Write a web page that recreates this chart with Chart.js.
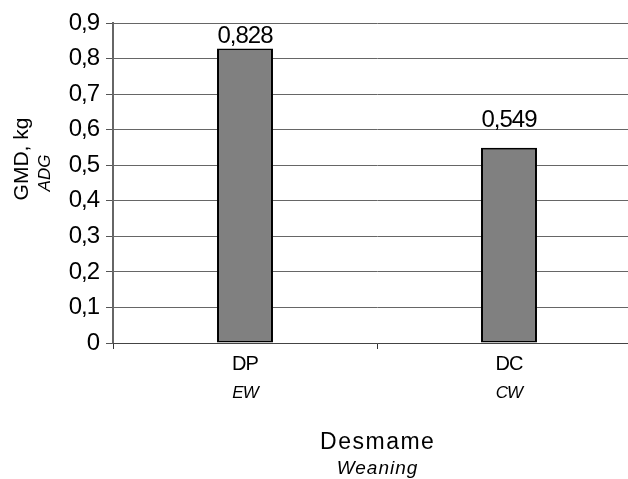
<!DOCTYPE html>
<html>
<head>
<meta charset="utf-8">
<script src="https://cdn.jsdelivr.net/npm/chart.js@4"></script>
<style>
  html, body { margin: 0; padding: 0; background: #ffffff; overflow: hidden; width: 628px; height: 479px; }
  canvas { display: block; }
</style>
</head>
<body>
<canvas id="c" width="645" height="479"></canvas>
<script>
// ---- data ----
const categories = ['DP', 'DC'];
const subCategories = ['EW', 'CW'];
const adgValues = [0.828, 0.549];
const yTickLabels = ['0', '0,1', '0,2', '0,3', '0,4', '0,5', '0,6', '0,7', '0,8', '0,9'];
const yTitleMain = 'GMD, kg';
const yTitleSub = 'ADG';
const xTitleMain = 'Desmame';
const xTitleSub = 'Weaning';

const FONT = '"Liberation Sans", Arial, sans-serif';

const spacingPlugin = {
  id: 'spacing',
  beforeLayout(chart) { chart.ctx.letterSpacing = '-1px'; },
  beforeDraw(chart) { chart.ctx.letterSpacing = '-1px'; }
};

const labelPlugin = {
  id: 'valueLabels',
  afterDatasetsDraw(chart) {
    const ctx = chart.ctx;
    const meta = chart.getDatasetMeta(0);
    const area = chart.chartArea;
    ctx.save();
    ctx.letterSpacing = '-1px';
    ctx.font = '24px ' + FONT;
    ctx.fillStyle = '#000';
    ctx.textAlign = 'center';
    ctx.textBaseline = 'alphabetic';
    meta.data.forEach((bar, i) => {
      const txt = adgValues[i].toFixed(3).replace('.', ',');
      const y = Math.max(bar.y - 21, area.top + 20);
      ctx.fillText(txt, bar.x, y);
    });
    ctx.restore();
  }
};

const titlePlugin = {
  id: 'axisTitles',
  afterDraw(chart) {
    const ctx = chart.ctx;
    const area = chart.chartArea;
    const cx = (area.left + area.right) / 2;
    ctx.save();
    ctx.fillStyle = '#000';
    ctx.textAlign = 'center';
    ctx.textBaseline = 'alphabetic';
    ctx.letterSpacing = '1.5px';
    ctx.font = '23px ' + FONT;
    ctx.fillText(xTitleMain, cx + 0.75, 449);
    ctx.letterSpacing = '1px';
    ctx.font = 'italic 19px ' + FONT;
    ctx.fillText(xTitleSub, cx + 0.5, 474);
    ctx.restore();

    ctx.save();
    ctx.fillStyle = '#000';
    ctx.textAlign = 'center';
    ctx.textBaseline = 'middle';
    ctx.letterSpacing = '0px';
    ctx.translate(22, 159);
    ctx.rotate(-Math.PI / 2);
    ctx.font = '21px ' + FONT;
    ctx.fillText(yTitleMain, 0, 0);
    ctx.restore();

    ctx.save();
    ctx.fillStyle = '#000';
    ctx.textAlign = 'center';
    ctx.textBaseline = 'middle';
    ctx.letterSpacing = '0px';
    ctx.translate(45, 173);
    ctx.rotate(-Math.PI / 2);
    ctx.font = 'italic 17px ' + FONT;
    ctx.fillText(yTitleSub, 0, 0);
    ctx.restore();
  }
};

new Chart(document.getElementById('c'), {
  type: 'bar',
  data: {
    labels: categories,
    datasets: [{
      data: adgValues,
      backgroundColor: '#808080',
      borderColor: '#000000',
      borderWidth: 2,
      borderSkipped: false,
      barPercentage: 0.212,
      categoryPercentage: 1.0,
      xAxisID: 'x',
      yAxisID: 'y'
    }]
  },
  options: {
    responsive: false,
    animation: false,
    devicePixelRatio: 1,
    layout: { padding: { left: 0, top: 23, right: 4, bottom: 0 } },
    plugins: {
      legend: { display: false },
      tooltip: { enabled: false },
      title: { display: false }
    },
    scales: {
      y: {
        min: 0,
        max: 0.9,
        afterFit(scale) { scale.width = 113; },
        ticks: {
          stepSize: 0.1,
          color: '#000',
          font: { family: FONT, size: 24 },
          padding: 7,
          callback: (v, i) => yTickLabels[i]
        },
        grid: {
          color: '#666',
          lineWidth: 1,
          tickLength: 7,
          tickColor: '#555'
        },
        border: { display: true, color: '#666', width: 2 }
      },
      x: {
        type: 'category',
        offset: true,
        afterFit(scale) { scale.height = 34; },
        ticks: {
          color: '#000',
          font: { family: FONT, size: 20 },
          padding: 3,
          maxRotation: 0
        },
        grid: {
          offset: true,
          drawOnChartArea: false,
          tickLength: 6,
          color: '#333',
          tickColor: '#333'
        },
        border: { display: true, color: '#444', width: 1 }
      },
      x2: {
        type: 'category',
        labels: subCategories,
        position: 'bottom',
        weight: 1,
        offset: true,
        display: true,
        afterFit(scale) { scale.height = 102; },
        ticks: {
          color: '#000',
          font: { family: FONT, size: 17, style: 'italic' },
          padding: 6,
          maxRotation: 0
        },
        grid: { display: false, drawTicks: false },
        border: { display: false }
      }
    }
  },
  plugins: [spacingPlugin, labelPlugin, titlePlugin]
});
</script>
</body>
</html>
